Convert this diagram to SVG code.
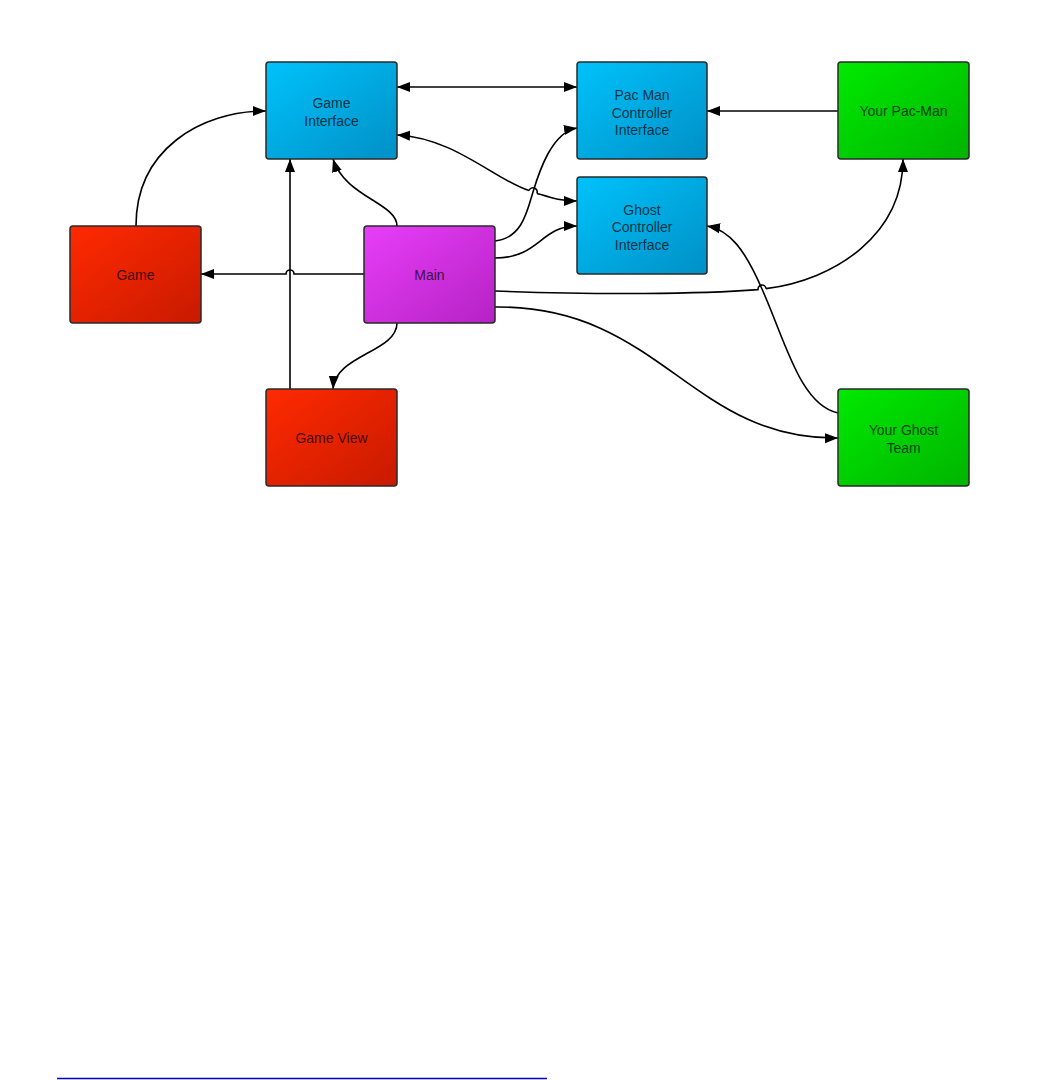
<svg xmlns="http://www.w3.org/2000/svg" width="1038" height="1080" viewBox="0 0 1038 1080">
<defs>
<linearGradient id="gBlue" x1="0" y1="0" x2="1" y2="1"><stop offset="0" stop-color="#00c2fb"/><stop offset="1" stop-color="#0090c6"/></linearGradient>
<linearGradient id="gRed" x1="0" y1="0" x2="1" y2="1"><stop offset="0" stop-color="#ff2a00"/><stop offset="1" stop-color="#c81a00"/></linearGradient>
<linearGradient id="gPurple" x1="0" y1="0" x2="1" y2="1"><stop offset="0" stop-color="#e83ef8"/><stop offset="1" stop-color="#b522c4"/></linearGradient>
<linearGradient id="gGreen" x1="0" y1="0" x2="1" y2="1"><stop offset="0" stop-color="#00ea00"/><stop offset="1" stop-color="#00b400"/></linearGradient>
<marker id="arr" markerUnits="userSpaceOnUse" markerWidth="14" markerHeight="12" refX="13" refY="5" orient="auto-start-reverse" viewBox="0 0 14 10">
<path d="M0,0 L13,5 L0,10 z" fill="#000"/>
</marker>
</defs>
<style>
.node rect{stroke:#2a2a2a;stroke-width:1.5}
.node text{font-family:"Liberation Sans",Arial,sans-serif;font-size:14px;fill:#000;fill-opacity:0.72;text-anchor:middle}
.c{fill:none;stroke:#000;stroke-width:1.6}
.a{marker-end:url(#arr)}
.b{marker-start:url(#arr);marker-end:url(#arr)}
</style>
<rect width="1038" height="1080" fill="#fff"/>
<g id="connectors">
<path class="c b" d="M397,87 H577"/>
<path class="c" d="M397,135 C455,138 495,180 529,190.6" marker-start="url(#arr)"/>
<path class="c" d="M529,190.6 A4,4 0 0 1 537,193.4"/>
<path class="c a" d="M537,193.4 C552,198 560,201 577,201"/>
<path class="c a" d="M495,241 C522,238 527,212 533,192 C539,172 552,132 577,128"/>
<path class="c a" d="M495,258 C540,258 540,226 577,226"/>
<path class="c a" d="M838,111 H707"/>
<path class="c a" d="M136,226 C136,150 200,111 266,111"/>
<path class="c a" d="M397,226 C397,203 345,197 333,159"/>
<path class="c a" d="M364,274 H294 A4,4 0 0 0 286,274 H201"/>
<path class="c a" d="M290,389 V159"/>
<path class="c a" d="M397,323 C397,352 335,355 333,389"/>
<path class="c" d="M495,291 C600,295 700,294 758,289.6 A4,4 0 0 1 766,288.6"/>
<path class="c a" d="M766,288.6 C835,280 903,235 903,159"/>
<path class="c a" d="M495,307 C660,305 690,440 838,438"/>
<path class="c a" d="M838,413 C800,405 785,340 762,289 C745,250 730,230 707,226"/>
</g>
<g id="game-interface" class="node"><rect x="266" y="62" width="131" height="97" rx="3" fill="url(#gBlue)"/><text x="331.5" y="108">Game</text><text x="331.5" y="126">Interface</text></g>
<g id="pacman-controller-interface" class="node"><rect x="577" y="62" width="130" height="97" rx="3" fill="url(#gBlue)"/><text x="642" y="100">Pac Man</text><text x="642" y="117.5">Controller</text><text x="642" y="135">Interface</text></g>
<g id="your-pacman" class="node"><rect x="838" y="62" width="131" height="97" rx="3" fill="url(#gGreen)"/><text x="903.5" y="116">Your Pac-Man</text></g>
<g id="ghost-controller-interface" class="node"><rect x="577" y="177" width="130" height="97" rx="3" fill="url(#gBlue)"/><text x="642" y="214.5">Ghost</text><text x="642" y="232">Controller</text><text x="642" y="249.5">Interface</text></g>
<g id="game" class="node"><rect x="70" y="226" width="131" height="97" rx="3" fill="url(#gRed)"/><text x="135.5" y="280">Game</text></g>
<g id="main" class="node"><rect x="364" y="226" width="131" height="97" rx="3" fill="url(#gPurple)"/><text x="429.5" y="280">Main</text></g>
<g id="game-view" class="node"><rect x="266" y="389" width="131" height="97" rx="3" fill="url(#gRed)"/><text x="331.5" y="443">Game View</text></g>
<g id="your-ghost-team" class="node"><rect x="838" y="389" width="131" height="97" rx="3" fill="url(#gGreen)"/><text x="903.5" y="435">Your Ghost</text><text x="903.5" y="452.5">Team</text></g>
<line x1="57" y1="1078.5" x2="547" y2="1078.5" stroke="#0000c8" stroke-width="1.5"/>
</svg>
